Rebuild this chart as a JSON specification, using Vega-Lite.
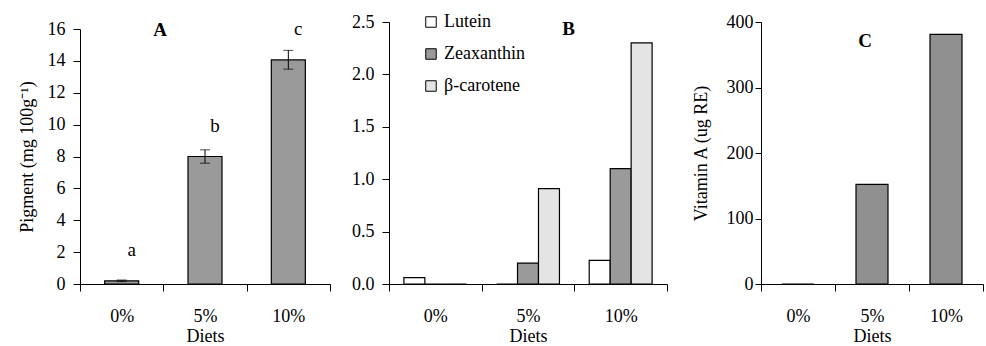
{
  "$schema": "https://vega.github.io/schema/vega-lite/v6.json",
  "padding": {"left": 18, "top": 13, "right": 0, "bottom": 0},
  "bounds": "flush",
  "spacing": 59,
  "config": {
    "view": {"stroke": null},
    "font": "Liberation Serif",
    "axis": {
      "labelFont": "Liberation Serif", "labelFontSize": 18, "labelColor": "black",
      "titleFont": "Liberation Serif", "titleFontSize": 18, "titleFontWeight": "normal", "titleColor": "black",
      "domainColor": "black", "tickColor": "black", "grid": false, "tickSize": 7, "labelOverlap": false
    },
    "axisX": {"labelAngle": 0, "labelPadding": 16, "tickBand": "extent", "titlePadding": 2},
    "axisY": {"labelPadding": 8},
    "title": {"font": "Liberation Serif", "fontSize": 19, "fontWeight": "bold", "color": "black"}
  },
  "hconcat": [
    {
      "width": 250, "height": 262,
      "title": {"text": "A", "dx": -45, "offset": -20},
      "data": {"values": [
        {"diet": "0%", "pigment": 0.2, "lo": 0.15, "hi": 0.25, "letter": "a"},
        {"diet": "5%", "pigment": 8.0, "lo": 7.58, "hi": 8.42, "letter": "b"},
        {"diet": "10%", "pigment": 14.06, "lo": 13.48, "hi": 14.66, "letter": "c"}
      ]},
      "encoding": {
        "x": {"field": "diet", "type": "nominal", "sort": ["0%", "5%", "10%"],
              "scale": {"range": [0, 250], "paddingInner": 0, "paddingOuter": 0},
              "axis": {"title": "Diets"}}
      },
      "layer": [
        {
          "mark": {"type": "bar", "width": 34, "fill": "#9a9a9a", "stroke": "black", "strokeWidth": 1.2},
          "encoding": {
            "y": {"field": "pigment", "type": "quantitative",
                  "scale": {"domain": [0, 16], "range": [262, 7], "nice": false},
                  "axis": {"title": "Pigment (mg 100g⁻¹)", "values": [0, 2, 4, 6, 8, 10, 12, 14, 16], "titlePadding": 11, "labelOverlap": false}}
          }
        },
        {
          "mark": {"type": "rule", "color": "black", "strokeWidth": 1},
          "encoding": {"y": {"field": "lo", "type": "quantitative",
                             "axis": {"title": "Pigment (mg 100g⁻¹)", "values": [0, 2, 4, 6, 8, 10, 12, 14, 16], "titlePadding": 11, "labelOverlap": false}},
                       "y2": {"field": "hi"}}
        },
        {
          "mark": {"type": "tick", "color": "black", "size": 10, "thickness": 1},
          "encoding": {"y": {"field": "lo", "type": "quantitative",
                             "axis": {"title": "Pigment (mg 100g⁻¹)", "values": [0, 2, 4, 6, 8, 10, 12, 14, 16], "titlePadding": 11, "labelOverlap": false}}}
        },
        {
          "mark": {"type": "tick", "color": "black", "size": 10, "thickness": 1},
          "encoding": {"y": {"field": "hi", "type": "quantitative",
                             "axis": {"title": "Pigment (mg 100g⁻¹)", "values": [0, 2, 4, 6, 8, 10, 12, 14, 16], "titlePadding": 11, "labelOverlap": false}}}
        },
        {
          "mark": {"type": "text", "fontSize": 19, "font": "Liberation Serif", "baseline": "alphabetic", "dy": -25, "dx": 10, "color": "black"},
          "encoding": {"y": {"field": "pigment", "type": "quantitative",
                             "axis": {"title": "Pigment (mg 100g⁻¹)", "values": [0, 2, 4, 6, 8, 10, 12, 14, 16], "titlePadding": 11, "labelOverlap": false}},
                       "text": {"field": "letter"}}
        }
      ]
    },
    {
      "width": 313, "height": 262,
      "title": {"text": "B", "dx": 23, "offset": -26},
      "data": {"values": [
        {"diet": "0%", "pigment": "Lutein", "value": 0.06},
        {"diet": "0%", "pigment": "Zeaxanthin", "value": 0},
        {"diet": "0%", "pigment": "β-carotene", "value": 0},
        {"diet": "5%", "pigment": "Lutein", "value": 0},
        {"diet": "5%", "pigment": "Zeaxanthin", "value": 0.2},
        {"diet": "5%", "pigment": "β-carotene", "value": 0.91},
        {"diet": "10%", "pigment": "Lutein", "value": 0.225},
        {"diet": "10%", "pigment": "Zeaxanthin", "value": 1.1},
        {"diet": "10%", "pigment": "β-carotene", "value": 2.3}
      ]},
      "mark": {"type": "bar", "stroke": "black", "strokeWidth": 1.2},
      "encoding": {
        "x": {"field": "diet", "type": "nominal", "sort": ["0%", "5%", "10%"],
              "scale": {"range": [0, 278], "paddingInner": 0, "paddingOuter": 0},
              "axis": {"title": "Diets"}},
        "xOffset": {"field": "pigment", "type": "nominal", "sort": ["Lutein", "Zeaxanthin", "β-carotene"],
                    "scale": {"paddingInner": 0, "paddingOuter": 0.71}},
        "y": {"field": "value", "type": "quantitative",
              "scale": {"domain": [0, 2.5], "nice": false},
              "axis": {"title": null, "values": [0, 0.5, 1, 1.5, 2, 2.5], "format": ".1f"}},
        "color": {"field": "pigment", "type": "nominal",
                  "scale": {"domain": ["Lutein", "Zeaxanthin", "β-carotene"], "range": ["#ffffff", "#9a9a9a", "#e4e4e4"]},
                  "legend": {"title": null, "orient": "none", "legendX": 342, "legendY": -9, "symbolType": "square", "symbolSize": 110,
                             "symbolStrokeColor": "black", "symbolStrokeWidth": 1, "symbolOpacity": 1,
                             "labelFont": "Liberation Serif", "labelFontSize": 18, "labelColor": "black", "labelOffset": 4, "rowPadding": 14, "padding": 0}}
      }
    },
    {
      "width": 222, "height": 262,
      "title": {"text": "C", "dx": -7, "offset": -38},
      "data": {"values": [
        {"diet": "0%", "vitA": 0},
        {"diet": "5%", "vitA": 152},
        {"diet": "10%", "vitA": 381}
      ]},
      "mark": {"type": "bar", "width": 32, "fill": "#909090", "stroke": "black", "strokeWidth": 1.2},
      "encoding": {
        "x": {"field": "diet", "type": "nominal", "sort": ["0%", "5%", "10%"],
              "scale": {"range": [0, 222], "paddingInner": 0, "paddingOuter": 0},
              "axis": {"title": "Diets"}},
        "y": {"field": "vitA", "type": "quantitative",
              "scale": {"domain": [0, 400], "nice": false},
              "axis": {"title": "Vitamin A (ug RE)", "values": [0, 100, 200, 300, 400], "tickSize": 6, "labelPadding": 2, "titlePadding": 16}}
      }
    }
  ]
}
